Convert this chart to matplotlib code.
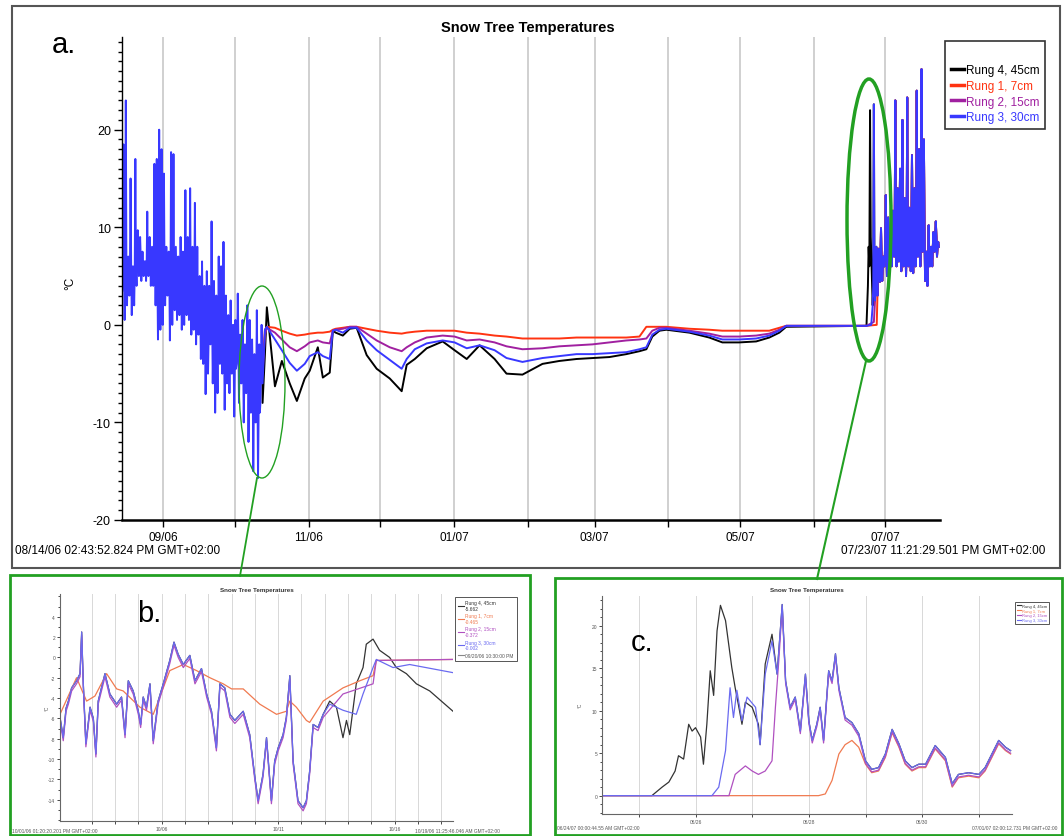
import matplotlib
matplotlib.use('Agg')
import matplotlib.pyplot as plt
from matplotlib.patches import Ellipse, Rectangle
from matplotlib.lines import Line2D
from matplotlib.ticker import MultipleLocator
from datetime import datetime

plt.rcParams['font.family'] = ['Liberation Sans', 'DejaVu Sans']
plt.rcParams['axes.unicode_minus'] = False

# --------------------- data: main chart (days since start) --------------------- #
start = datetime(2006, 8, 14, 14, 43, 52)
end = datetime(2007, 7, 23, 23, 21, 29)

# warm autumn period: all rungs read the same -> daily highs / lows
early_days = list(range(59))
early_hi = [18.5, 23, 7, 15, 6, 17, 9.7, 9, 7.5, 6.5, 11.6, 9, 8, 16.5, 17, 20, 18, 15.5, 8, 7.5,
            17.7, 17.5, 8, 7, 9, 7.5, 13.8, 9, 14, 8, 12.5, 8, 5, 6.5, 4, 5.5, 4, 10.6, 4.5, 3,
            7, 6, 8.5, 3, 1, 2.5, 0, 0.5, 3.2, -1, 0.5, -2, 2, 0.5, -1.5, -3, 1.5, -2, 0]
early_lo = [3.5, 0.5, 2, 3, 1, 2, 4, 5, 4.5, 5, 4.5, 5, 4, 4, 2, -1.5, -0.5, 0, 2, 3,
            -1.6, 0, 1.5, 0.5, 1, -0.5, 0, 1, 0.5, -1, -0.5, -2, -1, -3.5, -4, -7.1, -5, -2, -6, -9,
            -7, -4, -5, -8.7, -6, -7, -5, -9.4, -4, -8, -6, -10, -7, -12, -9, -15, -10, -15.7, -8]
# a second, smaller daily swing inside each day (the band of the diurnal cycle)
early_mid = [6, 5, 5.5, 6, 5, 5.5, 6.5, 7, 6, 6.5, 6, 7, 6, 6, 5.5, 4, 4.5, 5, 5, 5.5,
             4, 4, 4.5, 3.5, 4, 3, 3.5, 4, 3, 2.5, 2.5, 1.5, 1.5, 0, -0.5, -2, -1.5, 0.5, -1.5, -3,
             -2, -1, -1.5, -4, -2.5, -3, -2.5, -4.5, -1.5, -4, -3, -5.5, -3.5, -6, -5, -8, -6, -9, -4]

# snow-covered period: rungs separate
cold_days = [59.0, 60.0, 60.8, 64.2, 67.1, 70.4, 73.4, 76.7, 78.8, 82.2, 84.3, 87.2, 88.5, 89.7,
             92.7, 95.6, 98.5, 102.7, 106.9, 112.4, 117.4, 119.5, 122.9, 127.9, 134.6, 139.6,
             144.7, 150.1, 156.4, 161.4, 168.1, 176.5, 183.6, 190.8, 197.5, 204.6, 211.7, 217.2,
             220.1, 222.6, 225.6, 228.5, 238.2, 246.5, 252.0, 259.1, 266.2, 271.7, 275.9, 278.8, 312.5]
cold_rung4 = [-8, -3, 1.8, -6.3, -3.7, -6.0, -7.8, -5.5, -4.7, -2.3, -5.4, -4.9, -0.6, -0.8,
              -1.1, -0.4, -0.3, -3.1, -4.5, -5.5, -6.8, -4.1, -3.5, -2.4, -1.7, -2.6,
              -3.5, -2.1, -3.5, -5.0, -5.1, -4.0, -3.7, -3.5, -3.4, -3.3, -3.0, -2.7,
              -2.5, -1.2, -0.6, -0.5, -0.8, -1.3, -1.8, -1.8, -1.7, -1.3, -0.8, -0.2, -0.1]
cold_rung1 = [-4.2, -0.5, -0.2, -0.3, -0.6, -0.9, -1.1, -1.0, -0.9, -0.8, -0.8, -0.7, -0.5, -0.4,
              -0.3, -0.2, -0.2, -0.4, -0.6, -0.8, -0.9, -0.8, -0.7, -0.6, -0.6, -0.6,
              -0.8, -0.9, -1.1, -1.2, -1.4, -1.4, -1.4, -1.3, -1.3, -1.3, -1.3, -1.2,
              -0.2, -0.2, -0.2, -0.2, -0.4, -0.5, -0.6, -0.6, -0.6, -0.6, -0.3, -0.1, -0.1]
cold_rung2 = [-5, -1, -0.3, -0.8, -1.5, -2.3, -2.7, -2.2, -1.8, -1.6, -1.8, -1.9, -0.6, -0.5,
              -0.4, -0.2, -0.2, -0.9, -1.6, -2.3, -2.7, -2.3, -1.8, -1.3, -1.1, -1.2,
              -1.6, -1.5, -1.8, -2.2, -2.5, -2.4, -2.2, -2.1, -2.0, -1.8, -1.6, -1.5,
              -1.4, -0.6, -0.3, -0.3, -0.6, -0.9, -1.2, -1.2, -1.1, -0.9, -0.5, -0.1, -0.1]
cold_rung3 = [-6, -0.5, -0.2, -1.5, -2.6, -3.9, -4.7, -4.0, -3.2, -2.8, -3.2, -3.5, -0.6, -0.5,
              -0.8, -0.3, -0.3, -1.6, -2.6, -3.6, -4.5, -3.5, -2.5, -1.9, -1.6, -1.8,
              -2.4, -2.1, -2.6, -3.4, -3.8, -3.4, -3.2, -3.0, -3.0, -2.9, -2.8, -2.5,
              -2.3, -1.0, -0.5, -0.4, -0.7, -1.1, -1.5, -1.5, -1.4, -1.1, -0.6, -0.1, -0.1]

# melt-out: rung 4 warms first, then 3, 2, 1
rise4_days = [312.8, 313.1, 313.4, 313.7, 314.0, 314.3]
rise4_vals = [2, 4, 8, 6, 22, 9]
late_days = list(range(315, 343))
late_hi = [22.6, 8, 7.8, 9.9, 7, 13.3, 11, 9, 11.7, 23, 14, 16, 21, 13, 23.3, 12, 17.4, 14,
           24, 18, 26.2, 19, 7.5, 10.2, 8, 9.5, 10.6, 8.5]
late_lo = [2, 2.5, 3, 4.4, 4.5, 6, 5, 5.5, 6, 7, 6, 6.5, 5.5, 6, 5, 6, 5.5, 5.3,
           6, 7, 6, 7.5, 4.5, 4, 6, 6, 7.5, 7]
late_mid = [4, 5, 6, 6.5, 6, 8.5, 8, 7.5, 9, 10, 9, 10, 9, 9, 8.5, 9, 9.5, 8,
            9.5, 10, 9, 10, 6, 6.5, 7.5, 8, 9, 8]

month_labels = ['09/06', '', '11/06', '', '01/07', '', '03/07', '', '05/07', '', '07/07']
months = [(2006, 9), (2006, 10), (2006, 11), (2006, 12), (2007, 1), (2007, 2),
          (2007, 3), (2007, 4), (2007, 5), (2007, 6), (2007, 7)]

# --------------------- data: inset b (early October zoom) --------------------- #
b_t3 = [0.00, 0.14, 0.26, 0.36, 0.50, 0.71, 0.86, 0.93, 1.00, 1.11, 1.29, 1.43, 1.54, 1.64, 1.93,
        2.14, 2.43, 2.64, 2.79, 2.93, 3.14, 3.36, 3.46, 3.57, 3.71, 3.86, 4.00, 4.21, 4.43, 4.71,
        4.89, 5.07, 5.29, 5.57, 5.79, 6.07, 6.29, 6.50, 6.71, 6.86, 7.07, 7.29, 7.50, 7.86, 8.14,
        8.36, 8.50, 8.71, 8.86, 9.07, 9.21, 9.36, 9.57, 9.71, 9.86, 10.00, 10.21, 10.43, 10.57,
        10.71, 10.86, 11.07, 11.29, 11.57, 12.14, 12.71, 13.00, 13.43, 13.57, 14.29, 15.00, 16.86]
b_v3 = [-5.9, -7.9, -5.0, -4.3, -3.0, -2.3, -1.6, 2.5, -2.6, -8.5, -4.9, -6.0, -9.5, -4.3, -1.6,
        -3.6, -4.6, -3.9, -7.6, -2.3, -3.3, -5.3, -6.6, -3.9, -4.9, -2.6, -8.2, -4.3, -2.6, -0.3,
        1.5, 0.3, -0.7, 0.2, -2.3, -1.1, -3.6, -5.3, -8.9, -2.6, -3.0, -5.6, -6.2, -5.3, -7.6,
        -11.8, -14.1, -11.5, -7.9, -14.1, -10.2, -8.9, -7.6, -5.9, -1.8, -10.2, -14.1, -14.8, -14.1,
        -11.2, -6.6, -6.9, -5.6, -4.6, -5.2, -5.6, -3.6, -1.0, -0.2, -1.0, -0.7, -1.5]
b_split = 63  # rungs 2 and 4 follow rung 3 up to here
b_t4_tail = [11.57, 11.86, 12.14, 12.29, 12.43, 12.71, 13.00, 13.14, 13.43, 13.71, 14.14, 14.43,
             14.86, 15.29, 15.86, 16.86]
b_v4_tail = [-4.3, -4.9, -7.9, -6.2, -7.6, -2.6, -1.0, 1.3, 1.8, 0.7, 0.0, -1.0, -1.6, -2.6, -3.3, -5.3]
b_t2_tail = [12.14, 13.43, 13.57, 16.86]
b_v2_tail = [-3.6, -2.6, -0.3, -0.2]
b_t1 = [0.00, 0.71, 1.14, 1.50, 2.00, 2.43, 2.71, 3.43, 4.00, 4.71, 5.29, 5.86, 6.43, 7.00, 7.36,
        7.86, 8.57, 9.29, 9.71, 9.86, 10.14, 10.57, 10.71, 11.29, 12.14, 12.86, 13.43, 13.57, 16.86]
b_v1 = [-5.6, -2.0, -4.3, -3.8, -1.6, -3.1, -3.3, -4.9, -5.6, -1.3, -0.7, -1.3, -2.0, -2.6, -3.1,
        -3.1, -4.6, -5.6, -5.3, -4.3, -4.9, -6.2, -6.4, -4.3, -3.0, -2.3, -1.8, -0.3, -0.2]

# --------------------- data: inset c (late June zoom) --------------------- #
c_t3 = [0.00, 1.94, 2.06, 2.18, 2.26, 2.32, 2.38, 2.47, 2.56, 2.71, 2.79, 2.88, 3.00, 3.09, 3.18,
        3.24, 3.32, 3.41, 3.50, 3.59, 3.65, 3.71, 3.79, 3.85, 3.91, 4.00, 4.06, 4.12, 4.18, 4.29,
        4.41, 4.53, 4.65, 4.76, 4.88, 5.00, 5.12, 5.24, 5.35, 5.47, 5.59, 5.71, 5.88, 6.06, 6.18,
        6.29, 6.47, 6.65, 6.76, 6.88, 7.00, 7.12, 7.21]
c_v3 = [0.0, 0.0, 1.0, 5.3, 12.7, 9.2, 12.4, 8.8, 11.6, 10.4, 6.0, 14.3, 18.2, 14.3, 22.5,
        13.5, 10.4, 11.6, 7.6, 14.3, 8.8, 6.5, 8.4, 10.4, 6.5, 14.7, 13.5, 16.7, 12.7, 9.2,
        8.6, 7.3, 4.1, 3.1, 3.3, 4.9, 7.8, 6.1, 4.1, 3.3, 3.7, 3.7, 5.9, 4.5, 1.4,
        2.5, 2.7, 2.5, 3.3, 4.9, 6.5, 5.7, 5.3]
c_t4_head = [0.00, 0.88, 1.06, 1.18, 1.29, 1.35, 1.44, 1.53, 1.59, 1.65, 1.74, 1.79, 1.85, 1.91,
             1.97, 2.03, 2.09, 2.18, 2.29, 2.35, 2.41, 2.47, 2.53, 2.65, 2.76, 2.79, 2.88, 3.00]
c_v4_head = [0.0, 0.0, 1.0, 1.6, 2.9, 4.7, 4.3, 8.4, 7.6, 8.0, 6.9, 3.7, 8.4, 14.7,
             11.8, 19.4, 22.4, 20.6, 15.1, 12.7, 10.6, 8.4, 11.0, 10.4, 8.4, 6.0, 15.5, 19.0]
c_t2_head = [0.00, 2.24, 2.35, 2.53, 2.65, 2.76, 2.88, 3.00, 3.06, 3.12]
c_v2_head = [0.0, 0.0, 2.5, 3.5, 2.9, 2.5, 2.9, 4.1, 10.4, 15.9]
c_t1_head = [0.00, 3.82, 3.94, 4.06, 4.18, 4.29, 4.41, 4.53]
c_v1_head = [0.0, 0.0, 0.2, 1.8, 4.9, 6.0, 6.5, 5.7]

names = ['Rung 4, 45cm', 'Rung 1, 7cm', 'Rung 2, 15cm', 'Rung 3, 30cm']
colors = ['black', '#ff3311', '#a020a0', '#3838ff']
inset_colors = ['#333333', '#f07a50', '#b050c0', '#6a6af0']
b_readings = ['-5.662', '-0.465', '-0.372', '-0.002']


def interleave(days, hi, mid, lo):
    # four readings a day: night low, morning, afternoon high, evening
    t, v = [], []
    for d, h, m, l in zip(days, hi, mid, lo):
        t += [d + 0.1, d + 0.35, d + 0.6, d + 0.85]
        v += [l, m, h, m]
    return t, v


def day_of(dt):
    return (dt - start).total_seconds() / 86400.0


W, H = 1064, 837
fig = plt.figure(figsize=(10.64, 8.37), dpi=100)

# --------------------- panel a --------------------- #
ax = fig.add_axes([122 / W, 1 - 521 / H, 818 / W, 483 / H])
et, ev = interleave(early_days, early_hi, early_mid, early_lo)
lt, lv = interleave(late_days, late_hi, late_mid, late_lo)

# the rungs coincide in the warm spells; only rung 3 is drawn there (it is on top)
s4_t = et[-1:] + cold_days + rise4_days + lt
s4_v = ev[-1:] + cold_rung4 + rise4_vals + lv
s1_t = et[-1:] + cold_days + [316.8] + lt[8:]
s1_v = ev[-1:] + cold_rung1 + [0.0] + lv[8:]
s2_t = et[-1:] + cold_days + [315.6] + lt[4:]
s2_v = ev[-1:] + cold_rung2 + [0.3] + lv[4:]
s3_t = et + cold_days + [314.5] + lt
s3_v = ev + cold_rung3 + [0.0] + lv

ax.plot(s4_t, s4_v, color=colors[0], lw=1.4)
ax.plot(s1_t, s1_v, color=colors[1], lw=1.4)
ax.plot(s2_t, s2_v, color=colors[2], lw=1.4)
ax.plot(s3_t, s3_v, color=colors[3], lw=1.4)

ax.set_xlim(0, day_of(end))
ax.set_ylim(-20, 29.5)
ax.set_xticks([day_of(datetime(y, m, 1)) for y, m in months])
ax.set_xticklabels(month_labels, fontsize=8.5)
ax.grid(axis='x', color='#c8c8c8', lw=1.2)
ax.set_yticks([-20, -10, 0, 10, 20])
ax.yaxis.set_minor_locator(MultipleLocator(1))
ax.tick_params(axis='y', labelsize=9, length=6, width=1, pad=2)
ax.tick_params(axis='y', which='minor', length=3, width=1)
ax.tick_params(axis='x', length=5, width=1, pad=3)
for side in ['top', 'right']:
    ax.spines[side].set_visible(False)
ax.spines['bottom'].set_linewidth(1.8)
ax.spines['left'].set_linewidth(1.0)
ax.set_axisbelow(True)

handles = [Line2D([], [], color=c, lw=2.5) for c in colors]
leg = ax.legend(handles, names, loc='upper left', bbox_to_anchor=(945 / W, 1 - 42 / H),
                bbox_transform=fig.transFigure, fontsize=8.5, labelcolor=colors, title=' ',
                title_fontsize=11, handlelength=1.1, handletextpad=0.15, labelspacing=0.3,
                borderpad=0.5, borderaxespad=0, frameon=True, fancybox=False, framealpha=1)
leg.get_frame().set_edgecolor('#333333')
leg.get_frame().set_linewidth(1.2)

fig.text(528 / W, 1 - 28 / H, 'Snow Tree Temperatures', ha='center', va='center',
         fontsize=10.5, weight='bold')
fig.text(70 / W, 1 - 283 / H, '°C', rotation=90, ha='center', va='center', fontsize=8.5)
fig.text(15 / W, 1 - 551 / H, '08/14/06 02:43:52.824 PM GMT+02:00', ha='left', va='center', fontsize=8.5)
fig.text(1045 / W, 1 - 551 / H, '07/23/07 11:21:29.501 PM GMT+02:00', ha='right', va='center', fontsize=8.5)
fig.text(52 / W, 1 - 45 / H, 'a.', fontsize=21, ha='left', va='center')
fig.add_artist(Rectangle((12 / W, 1 - 569 / H), 1048 / W, 562 / H, transform=fig.transFigure,
                         fill=False, ec='#555555', lw=1.5))

# --------------------- panel b --------------------- #
axb = fig.add_axes([60 / W, 1 - 822 / H, 393 / W, 227 / H])
b4_t = b_t3[:b_split] + b_t4_tail
b4_v = b_v3[:b_split] + b_v4_tail
b2_t = b_t3[:b_split] + b_t2_tail
b2_v = [v - 0.3 for v in b_v3[:b_split]] + b_v2_tail
axb.plot(b4_t, b4_v, color=inset_colors[0], lw=0.9)
axb.plot(b_t1, b_v1, color=inset_colors[1], lw=0.9)
axb.plot(b2_t, b2_v, color=inset_colors[2], lw=0.9)
axb.plot(b_t3, b_v3, color=inset_colors[3], lw=0.9)
axb.set_xlim(0, 16.86)
axb.set_ylim(-16.1, 6.24)
axb.set_xticks([1.36 + k for k in range(16)])
axb.set_xticklabels(['10/06' if k == 3 else '10/11' if k == 8 else '10/16' if k == 13 else ''
                     for k in range(16)], fontsize=3.5, color='#555555')
axb.set_yticks(list(range(-14, 5, 2)))
axb.yaxis.set_minor_locator(MultipleLocator(1))
axb.tick_params(labelsize=3.5, labelcolor='#555555', length=2, width=0.5, pad=1.5)
axb.tick_params(which='minor', length=1.2, width=0.5)
axb.grid(axis='x', color='#d8d8d8', lw=0.7)
for side in ['top', 'right']:
    axb.spines[side].set_visible(False)
for side in ['left', 'bottom']:
    axb.spines[side].set_color('#666666')
    axb.spines[side].set_linewidth(0.8)
bh = [Line2D([], [], color=c, lw=0.8) for c in inset_colors] + [Line2D([], [], color='#888888', lw=0.8)]
bl = [n + '\n' + r for n, r in zip(names, b_readings)] + ['09/20/06 10:30:00 PM']
lb = axb.legend(bh, bl, loc='upper left', bbox_to_anchor=(455 / W, 1 - 598 / H),
                bbox_transform=fig.transFigure, fontsize=3.5, labelcolor=inset_colors + ['#555555'],
                handlelength=1.2, handletextpad=0.3, labelspacing=0.5, borderpad=0.6,
                borderaxespad=0, fancybox=False, framealpha=1)
lb.get_frame().set_edgecolor('#555555')
lb.get_frame().set_linewidth(0.7)
fig.text(257 / W, 1 - 591 / H, 'Snow Tree Temperatures', ha='center', va='center',
         fontsize=4.5, weight='bold', color='#333333')
fig.text(47 / W, 1 - 708 / H, '°C', rotation=90, ha='center', va='center', fontsize=3.5, color='#555555')
fig.text(12 / W, 1 - 832 / H, '10/01/06 01:20:20.201 PM GMT+02:00', fontsize=3.5, color='#555555',
         ha='left', va='center')
fig.text(500 / W, 1 - 832 / H, '10/19/06 11:25:46.046 AM GMT+02:00', fontsize=3.5, color='#555555',
         ha='right', va='center')
fig.text(137 / W, 1 - 614 / H, 'b.', fontsize=21, ha='left', va='center')
fig.add_artist(Rectangle((10 / W, 1 / H), 520 / W, (837 - 577) / H, transform=fig.transFigure,
                         fill=False, ec='#22a022', lw=2))

# --------------------- panel c --------------------- #
axc = fig.add_axes([602 / W, 1 - 815 / H, 410 / W, 218 / H])
i4 = c_t3.index(3.09)
i2 = c_t3.index(3.18)
i1 = c_t3.index(4.65)
axc.plot(c_t4_head + c_t3[i4:], c_v4_head + c_v3[i4:], color=inset_colors[0], lw=0.9)
axc.plot(c_t1_head + c_t3[i1:], c_v1_head + [v - 0.4 for v in c_v3[i1:]], color=inset_colors[1], lw=0.9)
axc.plot(c_t2_head + c_t3[i2:], c_v2_head + [v - 0.3 for v in c_v3[i2:]], color=inset_colors[2], lw=0.9)
axc.plot(c_t3, c_v3, color=inset_colors[3], lw=0.9)
axc.set_xlim(0, 7.235)
axc.set_ylim(-2.16, 23.5)
axc.set_xticks([0.65 + k for k in range(7)])
axc.set_xticklabels(['', '06/26', '', '06/28', '', '06/30', ''], fontsize=3.5, color='#555555')
axc.set_yticks([0, 5, 10, 15, 20])
axc.yaxis.set_minor_locator(MultipleLocator(1))
axc.tick_params(labelsize=3.5, labelcolor='#555555', length=2, width=0.5, pad=1.5)
axc.tick_params(which='minor', length=1.2, width=0.5)
axc.grid(axis='x', color='#d8d8d8', lw=0.7)
for side in ['top', 'right']:
    axc.spines[side].set_visible(False)
for side in ['left', 'bottom']:
    axc.spines[side].set_color('#666666')
    axc.spines[side].set_linewidth(0.8)
ch = [Line2D([], [], color=c, lw=0.8) for c in inset_colors]
lc = axc.legend(ch, names, loc='upper left', bbox_to_anchor=(1015 / W, 1 - 603 / H),
                bbox_transform=fig.transFigure, fontsize=3, labelcolor=inset_colors,
                handlelength=1.0, handletextpad=0.3, labelspacing=0.2, borderpad=0.4,
                borderaxespad=0, fancybox=False, framealpha=1)
lc.get_frame().set_edgecolor('#555555')
lc.get_frame().set_linewidth(0.7)
fig.text(807 / W, 1 - 591 / H, 'Snow Tree Temperatures', ha='center', va='center',
         fontsize=4.5, weight='bold', color='#333333')
fig.text(580 / W, 1 - 705 / H, '°C', rotation=90, ha='center', va='center', fontsize=3.5, color='#555555')
fig.text(557 / W, 1 - 829 / H, '06/24/07 00:00:44.55 AM GMT+02:00', fontsize=3.5, color='#555555',
         ha='left', va='center')
fig.text(1057 / W, 1 - 829 / H, '07/01/07 02:00:12.731 PM GMT+02:00', fontsize=3.5, color='#555555',
         ha='right', va='center')
fig.text(642 / W, 1 - 643 / H, 'c.', fontsize=21, ha='center', va='center')
fig.add_artist(Rectangle((555 / W, 1 / H), 507 / W, (837 - 580) / H, transform=fig.transFigure,
                         fill=False, ec='#22a022', lw=2))

# --------------------- zoom callouts --------------------- #
fig.add_artist(Ellipse((262 / W, 1 - 383 / H), 46 / W, 192 / H, transform=fig.transFigure,
                       fill=False, ec='#22a022', lw=1.0))
fig.add_artist(Ellipse((869 / W, 1 - 221 / H), 44 / W, 282 / H, transform=fig.transFigure,
                       fill=False, ec='#22a022', lw=2.5))
fig.add_artist(Line2D([257 / W, 240 / W], [1 - 479 / H, 1 - 577 / H], transform=fig.transFigure,
                      color='#22a022', lw=1.3))
fig.add_artist(Line2D([866 / W, 817 / W], [1 - 362 / H, 1 - 580 / H], transform=fig.transFigure,
                      color='#22a022', lw=1.5))

fig.savefig('out.png', dpi=100)
